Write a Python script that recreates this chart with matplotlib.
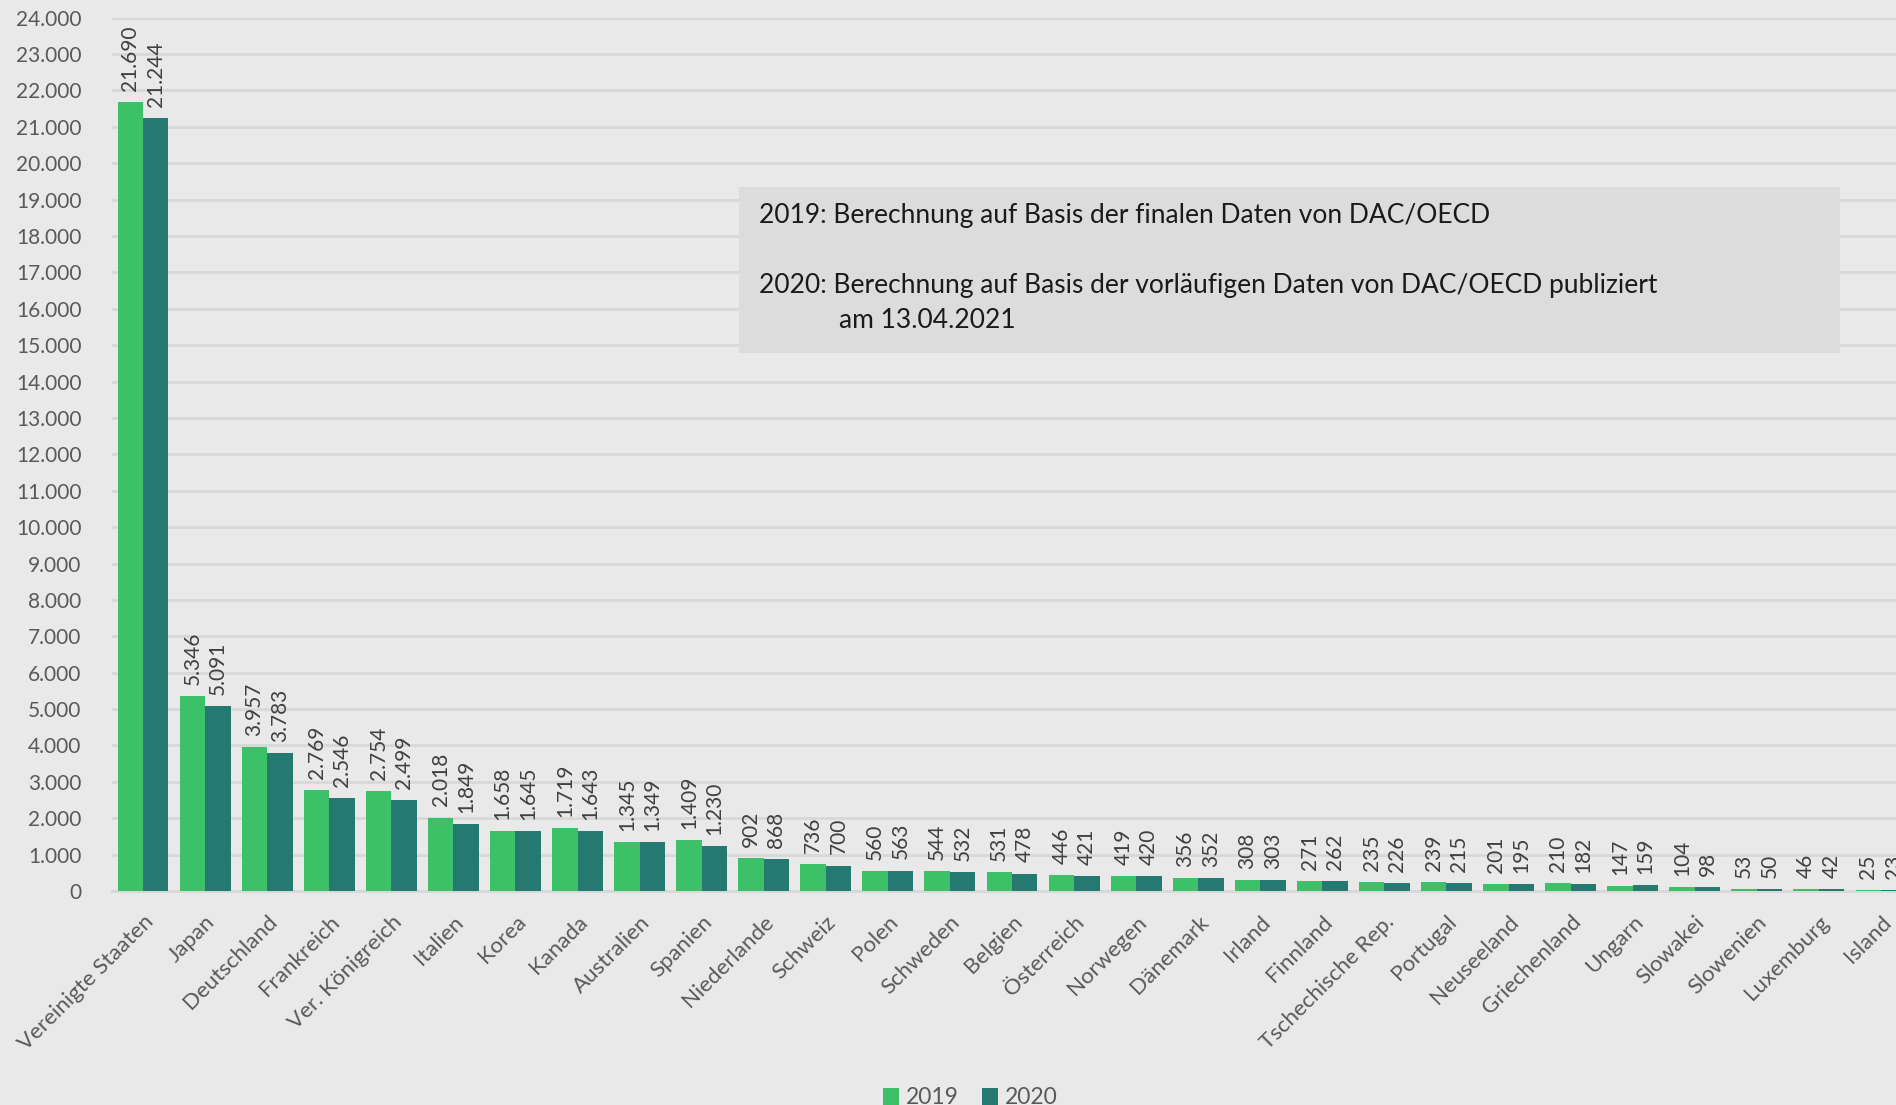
import numpy as np
import matplotlib.pyplot as plt

# ODA by DAC country, 2019 vs 2020 (Mio. USD)
countries = ['Vereinigte Staaten', 'Japan', 'Deutschland', 'Frankreich', 'Ver. Königreich',
             'Italien', 'Korea', 'Kanada', 'Australien', 'Spanien', 'Niederlande', 'Schweiz',
             'Polen', 'Schweden', 'Belgien', 'Österreich', 'Norwegen', 'Dänemark', 'Irland',
             'Finnland', 'Tschechische Rep.', 'Portugal', 'Neuseeland', 'Griechenland',
             'Ungarn', 'Slowakei', 'Slowenien', 'Luxemburg', 'Island']
v2019 = [21690, 5346, 3957, 2769, 2754, 2018, 1658, 1719, 1345, 1409, 902, 736, 560, 544,
         531, 446, 419, 356, 308, 271, 235, 239, 201, 210, 147, 104, 53, 46, 25]
v2020 = [21244, 5091, 3783, 2546, 2499, 1849, 1645, 1643, 1349, 1230, 868, 700, 563, 532,
         478, 421, 420, 352, 303, 262, 226, 215, 195, 182, 159, 98, 50, 42, 23]
yticks = list(range(0, 24001, 1000))

bg = '#E9E9E9'
c19 = '#3CC068'
c20 = '#247A71'
plt.rcParams['font.family'] = ['Lato', 'DejaVu Sans']

def fmt(v):
    return f'{v:,}'.replace(',', '.')

fig = plt.figure(figsize=(18.96, 11.05), dpi=100, facecolor=bg)
ax = fig.add_axes([112/1896, 1 - 891/1105, 1800/1896, (891 - 17.7)/1105])
ax.set_facecolor(bg)

x = np.arange(len(countries))
w = 0.41
b1 = ax.bar(x - w/2, v2019, w, color=c19, label='2019', zorder=3)
b2 = ax.bar(x + w/2, v2020, w, color=c20, label='2020', zorder=3)

for bars, vals in [(b1, v2019), (b2, v2020)]:
    for r, v in zip(bars, vals):
        ax.annotate(fmt(v), (r.get_x() + r.get_width()/2, v), xytext=(0, 8),
                    textcoords='offset points', rotation=90, ha='center', va='bottom',
                    fontsize=15, color='#404040', clip_on=False)

ax.set_xlim(-0.5, len(countries) - 0.5)
ax.set_ylim(0, 24000)
ax.set_yticks(yticks)
ax.set_yticklabels([fmt(t) for t in yticks], fontsize=15, color='#595959')
ax.set_xticks(x)
ax.set_xticklabels(countries, rotation=45, ha='right', rotation_mode='anchor',
                   fontsize=16, color='#595959')
ax.tick_params(axis='both', length=0)
ax.tick_params(axis='y', pad=22)
ax.tick_params(axis='x', pad=15)
ax.grid(axis='y', color='#D8D8D8', linewidth=2, zorder=0)
for s in ['top', 'right', 'left']:
    ax.spines[s].set_visible(False)
ax.spines['bottom'].set_color('#D8D8D8')
ax.spines['bottom'].set_linewidth(2)

# note box
fig.patches.append(plt.Rectangle((739/1896, 1 - 353/1105), 1101/1896, 166/1105,
                                 transform=fig.transFigure, facecolor='#DCDCDC',
                                 edgecolor='none', zorder=5))
fig.text(759/1896, 1 - 215/1105, '2019: Berechnung auf Basis der finalen Daten von DAC/OECD',
         fontsize=19, color='#1A1A1A', va='center', zorder=6)
fig.text(759/1896, 1 - 285/1105,
         '2020: Berechnung auf Basis der vorläufigen Daten von DAC/OECD publiziert',
         fontsize=19, color='#1A1A1A', va='center', zorder=6)
fig.text(839/1896, 1 - 320/1105, 'am 13.04.2021', fontsize=19, color='#1A1A1A',
         va='center', zorder=6)

fig.legend(loc='center', bbox_to_anchor=(970/1896, 1 - 1098/1105), ncol=2, frameon=False,
           fontsize=16.5, handlelength=0.7, handleheight=0.7, handletextpad=0.3,
           columnspacing=1.0, labelcolor='#595959')

fig.savefig('out.png', dpi=100, facecolor=bg)
